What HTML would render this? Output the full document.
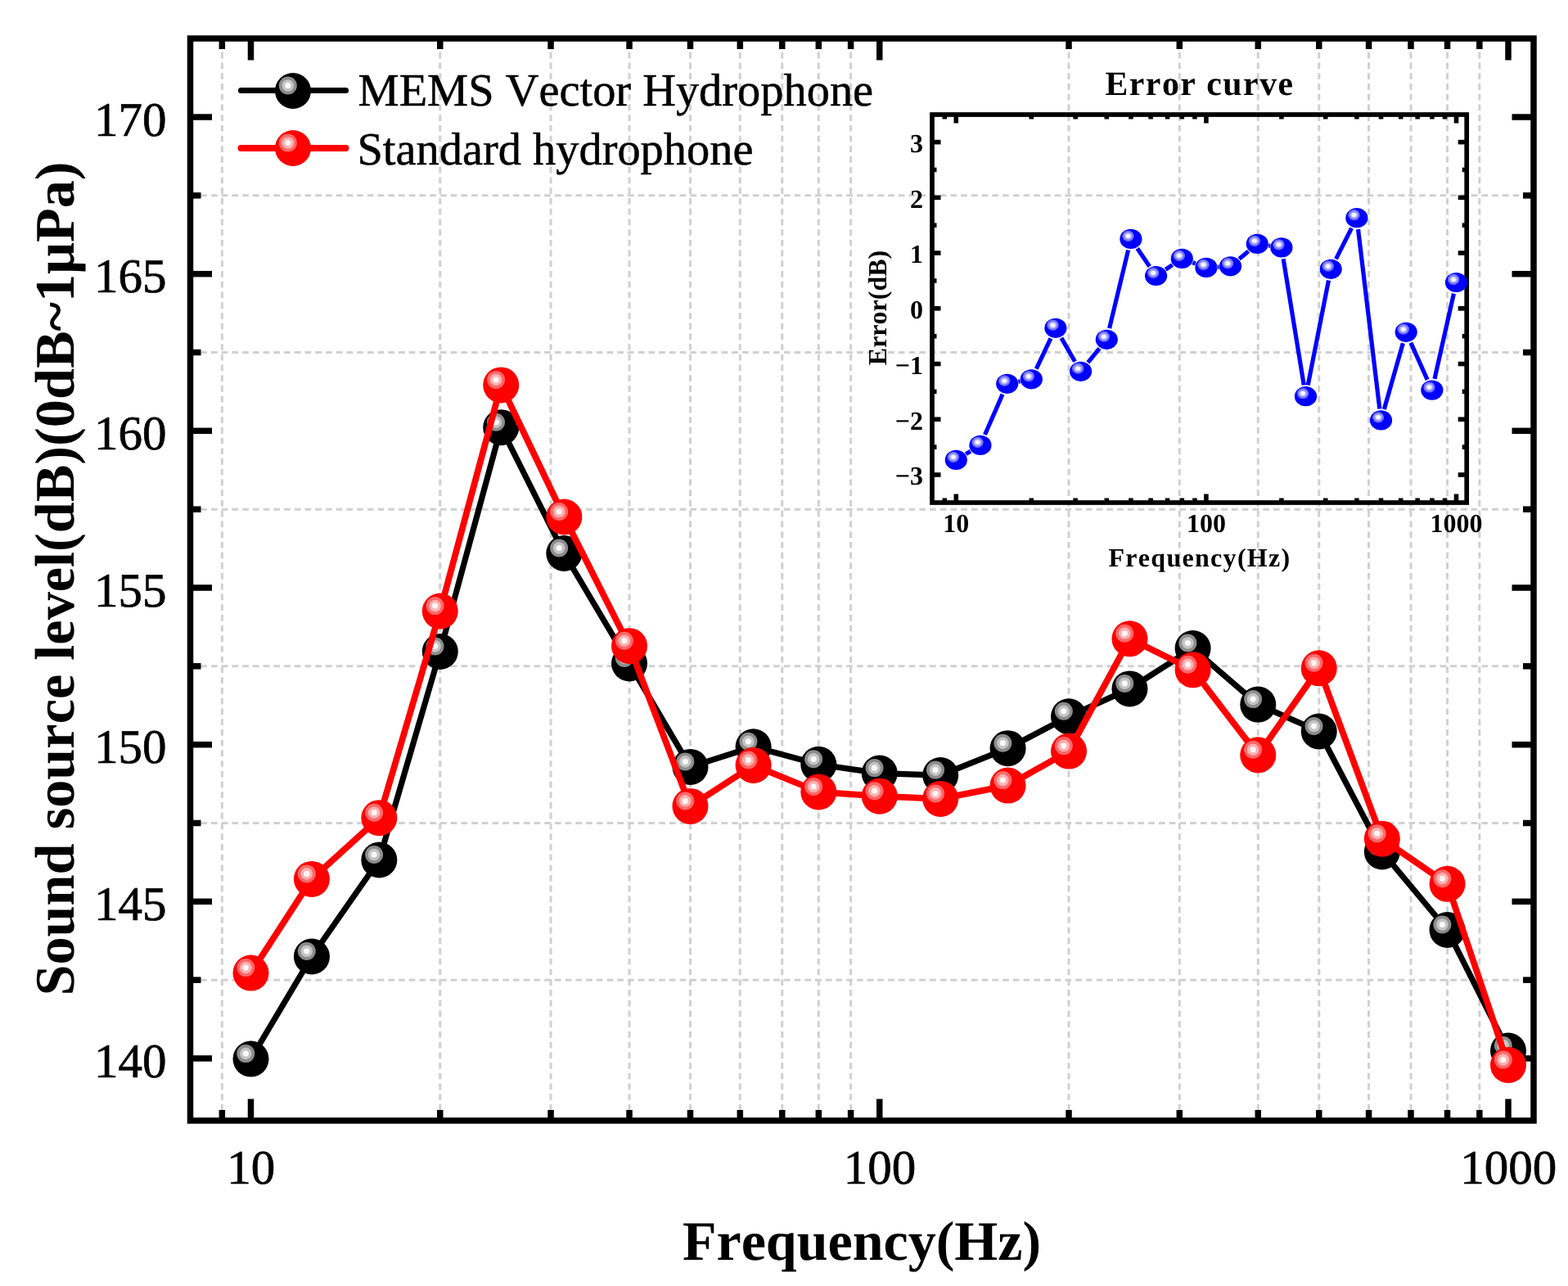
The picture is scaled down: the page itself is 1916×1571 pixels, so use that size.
<!DOCTYPE html>
<html><head><meta charset="utf-8"><title>Sound source level vs Frequency</title>
<style>
html,body{margin:0;padding:0;background:#fff;}
body{width:1916px;height:1571px;overflow:hidden;}
svg{display:block;}
text{text-rendering:geometricPrecision;}
</style></head>
<body>
<svg width="1916" height="1571" viewBox="0 0 1916 1571">
<rect width="1916" height="1571" fill="#fff"/>
<g stroke="#d0d0d0" stroke-width="3.0" stroke-dasharray="7.7 5.025" fill="none">
<line x1="271.35" y1="51.1" x2="271.35" y2="1365.25"/>
<line x1="537.77" y1="51.1" x2="537.77" y2="1365.25"/>
<line x1="673.05" y1="51.1" x2="673.05" y2="1365.25"/>
<line x1="769.03" y1="51.1" x2="769.03" y2="1365.25"/>
<line x1="843.48" y1="51.1" x2="843.48" y2="1365.25"/>
<line x1="904.31" y1="51.1" x2="904.31" y2="1365.25"/>
<line x1="955.75" y1="51.1" x2="955.75" y2="1365.25"/>
<line x1="1000.3" y1="51.1" x2="1000.3" y2="1365.25"/>
<line x1="1039.6" y1="51.1" x2="1039.6" y2="1365.25"/>
<line x1="1306.02" y1="51.1" x2="1306.02" y2="1365.25"/>
<line x1="1441.3" y1="51.1" x2="1441.3" y2="1365.25"/>
<line x1="1537.28" y1="51.1" x2="1537.28" y2="1365.25"/>
<line x1="1611.73" y1="51.1" x2="1611.73" y2="1365.25"/>
<line x1="1672.56" y1="51.1" x2="1672.56" y2="1365.25"/>
<line x1="1724" y1="51.1" x2="1724" y2="1365.25"/>
<line x1="1768.55" y1="51.1" x2="1768.55" y2="1365.25"/>
<line x1="1807.85" y1="51.1" x2="1807.85" y2="1365.25"/>
<line x1="232.55" y1="1197.17" x2="1870.25" y2="1197.17"/>
<line x1="232.55" y1="1005.5" x2="1870.25" y2="1005.5"/>
<line x1="232.55" y1="813.84" x2="1870.25" y2="813.84"/>
<line x1="232.55" y1="622.17" x2="1870.25" y2="622.17"/>
<line x1="232.55" y1="430.51" x2="1870.25" y2="430.51"/>
<line x1="232.55" y1="238.84" x2="1870.25" y2="238.84"/>
</g>
<g stroke="#000" stroke-width="7.5" fill="none">
<line x1="306.5" y1="1369" x2="306.5" y2="1342.5"/>
<line x1="306.5" y1="47" x2="306.5" y2="73.5"/>
<line x1="1074.75" y1="1369" x2="1074.75" y2="1342.5"/>
<line x1="1074.75" y1="47" x2="1074.75" y2="73.5"/>
<line x1="1843" y1="1369" x2="1843" y2="1342.5"/>
<line x1="1843" y1="47" x2="1843" y2="73.5"/>
<line x1="271.35" y1="1369" x2="271.35" y2="1356"/>
<line x1="271.35" y1="47" x2="271.35" y2="60"/>
<line x1="537.77" y1="1369" x2="537.77" y2="1356"/>
<line x1="537.77" y1="47" x2="537.77" y2="60"/>
<line x1="673.05" y1="1369" x2="673.05" y2="1356"/>
<line x1="673.05" y1="47" x2="673.05" y2="60"/>
<line x1="769.03" y1="1369" x2="769.03" y2="1356"/>
<line x1="769.03" y1="47" x2="769.03" y2="60"/>
<line x1="843.48" y1="1369" x2="843.48" y2="1356"/>
<line x1="843.48" y1="47" x2="843.48" y2="60"/>
<line x1="904.31" y1="1369" x2="904.31" y2="1356"/>
<line x1="904.31" y1="47" x2="904.31" y2="60"/>
<line x1="955.75" y1="1369" x2="955.75" y2="1356"/>
<line x1="955.75" y1="47" x2="955.75" y2="60"/>
<line x1="1000.3" y1="1369" x2="1000.3" y2="1356"/>
<line x1="1000.3" y1="47" x2="1000.3" y2="60"/>
<line x1="1039.6" y1="1369" x2="1039.6" y2="1356"/>
<line x1="1039.6" y1="47" x2="1039.6" y2="60"/>
<line x1="1306.02" y1="1369" x2="1306.02" y2="1356"/>
<line x1="1306.02" y1="47" x2="1306.02" y2="60"/>
<line x1="1441.3" y1="1369" x2="1441.3" y2="1356"/>
<line x1="1441.3" y1="47" x2="1441.3" y2="60"/>
<line x1="1537.28" y1="1369" x2="1537.28" y2="1356"/>
<line x1="1537.28" y1="47" x2="1537.28" y2="60"/>
<line x1="1611.73" y1="1369" x2="1611.73" y2="1356"/>
<line x1="1611.73" y1="47" x2="1611.73" y2="60"/>
<line x1="1672.56" y1="1369" x2="1672.56" y2="1356"/>
<line x1="1672.56" y1="47" x2="1672.56" y2="60"/>
<line x1="1724" y1="1369" x2="1724" y2="1356"/>
<line x1="1724" y1="47" x2="1724" y2="60"/>
<line x1="1768.55" y1="1369" x2="1768.55" y2="1356"/>
<line x1="1768.55" y1="47" x2="1768.55" y2="60"/>
<line x1="1807.85" y1="1369" x2="1807.85" y2="1356"/>
<line x1="1807.85" y1="47" x2="1807.85" y2="60"/>
<line x1="232.5" y1="1293" x2="259" y2="1293"/>
<line x1="1874" y1="1293" x2="1847.5" y2="1293"/>
<line x1="232.5" y1="1101.34" x2="259" y2="1101.34"/>
<line x1="1874" y1="1101.34" x2="1847.5" y2="1101.34"/>
<line x1="232.5" y1="909.67" x2="259" y2="909.67"/>
<line x1="1874" y1="909.67" x2="1847.5" y2="909.67"/>
<line x1="232.5" y1="718" x2="259" y2="718"/>
<line x1="1874" y1="718" x2="1847.5" y2="718"/>
<line x1="232.5" y1="526.34" x2="259" y2="526.34"/>
<line x1="1874" y1="526.34" x2="1847.5" y2="526.34"/>
<line x1="232.5" y1="334.68" x2="259" y2="334.68"/>
<line x1="1874" y1="334.68" x2="1847.5" y2="334.68"/>
<line x1="232.5" y1="143.01" x2="259" y2="143.01"/>
<line x1="1874" y1="143.01" x2="1847.5" y2="143.01"/>
<line x1="232.5" y1="1197.17" x2="245.5" y2="1197.17"/>
<line x1="1874" y1="1197.17" x2="1861" y2="1197.17"/>
<line x1="232.5" y1="1005.5" x2="245.5" y2="1005.5"/>
<line x1="1874" y1="1005.5" x2="1861" y2="1005.5"/>
<line x1="232.5" y1="813.84" x2="245.5" y2="813.84"/>
<line x1="1874" y1="813.84" x2="1861" y2="813.84"/>
<line x1="232.5" y1="622.17" x2="245.5" y2="622.17"/>
<line x1="1874" y1="622.17" x2="1861" y2="622.17"/>
<line x1="232.5" y1="430.51" x2="245.5" y2="430.51"/>
<line x1="1874" y1="430.51" x2="1861" y2="430.51"/>
<line x1="232.5" y1="238.84" x2="245.5" y2="238.84"/>
<line x1="1874" y1="238.84" x2="1861" y2="238.84"/>
</g>
<rect x="232.5" y="47.0" width="1641.5" height="1322.0" fill="none" stroke="#000" stroke-width="7.5"/>
<g font-family='"Liberation Serif", "Times New Roman", serif' font-size="59" fill="#000" stroke="#000" stroke-width="0.7" style="font-kerning:none">
<text x="203.5" y="1315.5" text-anchor="end">140</text>
<text x="203.5" y="1123.84" text-anchor="end">145</text>
<text x="203.5" y="932.17" text-anchor="end">150</text>
<text x="203.5" y="740.5" text-anchor="end">155</text>
<text x="203.5" y="548.84" text-anchor="end">160</text>
<text x="203.5" y="357.18" text-anchor="end">165</text>
<text x="203.5" y="165.51" text-anchor="end">170</text>
<text x="306.8" y="1446" text-anchor="middle">10</text>
<text x="1075.05" y="1446" text-anchor="middle">100</text>
<text x="1843.3" y="1446" text-anchor="middle">1000</text>
</g>
<text x="1053" y="1539" text-anchor="middle" font-family='"Liberation Serif", "Times New Roman", serif' font-weight="bold" font-size="68" style="font-kerning:none">Frequency(Hz)</text>
<text transform="translate(89.5,707) rotate(-90)" x="0" y="0" text-anchor="middle" font-family='"Liberation Serif", "Times New Roman", serif' font-weight="bold" font-size="68.3" style="font-kerning:none">Sound source level(dB)(0dB~1μPa)</text>
<polyline points="306.5,1293.6 380.95,1168.5 463.32,1050.5 537.77,796 612.22,522.2 689.33,676 769.03,810.4 843.48,936.9 920.59,912.3 1000.3,933.8 1074.75,944.6 1149.2,947.1 1231.57,914.2 1306.02,875.3 1380.47,841.4 1457.58,792 1537.28,860.6 1611.73,893.5 1688.84,1040.5 1768.55,1136 1843,1283.6" fill="none" stroke="#000" stroke-width="7.2" stroke-linejoin="round"/>
<circle cx="306.5" cy="1293.6" r="22" fill="#000"/><circle cx="300.3" cy="1287.1" r="11" fill="#8c8c8c"/><circle cx="300.3" cy="1287.1" r="7.3" fill="#c4c4c4"/><circle cx="300.3" cy="1287.1" r="3.6" fill="#fafafa"/>
<circle cx="380.95" cy="1168.5" r="22" fill="#000"/><circle cx="374.75" cy="1162" r="11" fill="#8c8c8c"/><circle cx="374.75" cy="1162" r="7.3" fill="#c4c4c4"/><circle cx="374.75" cy="1162" r="3.6" fill="#fafafa"/>
<circle cx="463.32" cy="1050.5" r="22" fill="#000"/><circle cx="457.12" cy="1044" r="11" fill="#8c8c8c"/><circle cx="457.12" cy="1044" r="7.3" fill="#c4c4c4"/><circle cx="457.12" cy="1044" r="3.6" fill="#fafafa"/>
<circle cx="537.77" cy="796" r="22" fill="#000"/><circle cx="531.57" cy="789.5" r="11" fill="#8c8c8c"/><circle cx="531.57" cy="789.5" r="7.3" fill="#c4c4c4"/><circle cx="531.57" cy="789.5" r="3.6" fill="#fafafa"/>
<circle cx="612.22" cy="522.2" r="22" fill="#000"/><circle cx="606.02" cy="515.7" r="11" fill="#8c8c8c"/><circle cx="606.02" cy="515.7" r="7.3" fill="#c4c4c4"/><circle cx="606.02" cy="515.7" r="3.6" fill="#fafafa"/>
<circle cx="689.33" cy="676" r="22" fill="#000"/><circle cx="683.13" cy="669.5" r="11" fill="#8c8c8c"/><circle cx="683.13" cy="669.5" r="7.3" fill="#c4c4c4"/><circle cx="683.13" cy="669.5" r="3.6" fill="#fafafa"/>
<circle cx="769.03" cy="810.4" r="22" fill="#000"/><circle cx="762.83" cy="803.9" r="11" fill="#8c8c8c"/><circle cx="762.83" cy="803.9" r="7.3" fill="#c4c4c4"/><circle cx="762.83" cy="803.9" r="3.6" fill="#fafafa"/>
<circle cx="843.48" cy="936.9" r="22" fill="#000"/><circle cx="837.28" cy="930.4" r="11" fill="#8c8c8c"/><circle cx="837.28" cy="930.4" r="7.3" fill="#c4c4c4"/><circle cx="837.28" cy="930.4" r="3.6" fill="#fafafa"/>
<circle cx="920.59" cy="912.3" r="22" fill="#000"/><circle cx="914.39" cy="905.8" r="11" fill="#8c8c8c"/><circle cx="914.39" cy="905.8" r="7.3" fill="#c4c4c4"/><circle cx="914.39" cy="905.8" r="3.6" fill="#fafafa"/>
<circle cx="1000.3" cy="933.8" r="22" fill="#000"/><circle cx="994.1" cy="927.3" r="11" fill="#8c8c8c"/><circle cx="994.1" cy="927.3" r="7.3" fill="#c4c4c4"/><circle cx="994.1" cy="927.3" r="3.6" fill="#fafafa"/>
<circle cx="1074.75" cy="944.6" r="22" fill="#000"/><circle cx="1068.55" cy="938.1" r="11" fill="#8c8c8c"/><circle cx="1068.55" cy="938.1" r="7.3" fill="#c4c4c4"/><circle cx="1068.55" cy="938.1" r="3.6" fill="#fafafa"/>
<circle cx="1149.2" cy="947.1" r="22" fill="#000"/><circle cx="1143" cy="940.6" r="11" fill="#8c8c8c"/><circle cx="1143" cy="940.6" r="7.3" fill="#c4c4c4"/><circle cx="1143" cy="940.6" r="3.6" fill="#fafafa"/>
<circle cx="1231.57" cy="914.2" r="22" fill="#000"/><circle cx="1225.37" cy="907.7" r="11" fill="#8c8c8c"/><circle cx="1225.37" cy="907.7" r="7.3" fill="#c4c4c4"/><circle cx="1225.37" cy="907.7" r="3.6" fill="#fafafa"/>
<circle cx="1306.02" cy="875.3" r="22" fill="#000"/><circle cx="1299.82" cy="868.8" r="11" fill="#8c8c8c"/><circle cx="1299.82" cy="868.8" r="7.3" fill="#c4c4c4"/><circle cx="1299.82" cy="868.8" r="3.6" fill="#fafafa"/>
<circle cx="1380.47" cy="841.4" r="22" fill="#000"/><circle cx="1374.27" cy="834.9" r="11" fill="#8c8c8c"/><circle cx="1374.27" cy="834.9" r="7.3" fill="#c4c4c4"/><circle cx="1374.27" cy="834.9" r="3.6" fill="#fafafa"/>
<circle cx="1457.58" cy="792" r="22" fill="#000"/><circle cx="1451.38" cy="785.5" r="11" fill="#8c8c8c"/><circle cx="1451.38" cy="785.5" r="7.3" fill="#c4c4c4"/><circle cx="1451.38" cy="785.5" r="3.6" fill="#fafafa"/>
<circle cx="1537.28" cy="860.6" r="22" fill="#000"/><circle cx="1531.08" cy="854.1" r="11" fill="#8c8c8c"/><circle cx="1531.08" cy="854.1" r="7.3" fill="#c4c4c4"/><circle cx="1531.08" cy="854.1" r="3.6" fill="#fafafa"/>
<circle cx="1611.73" cy="893.5" r="22" fill="#000"/><circle cx="1605.53" cy="887" r="11" fill="#8c8c8c"/><circle cx="1605.53" cy="887" r="7.3" fill="#c4c4c4"/><circle cx="1605.53" cy="887" r="3.6" fill="#fafafa"/>
<circle cx="1688.84" cy="1040.5" r="22" fill="#000"/><circle cx="1682.64" cy="1034" r="11" fill="#8c8c8c"/><circle cx="1682.64" cy="1034" r="7.3" fill="#c4c4c4"/><circle cx="1682.64" cy="1034" r="3.6" fill="#fafafa"/>
<circle cx="1768.55" cy="1136" r="22" fill="#000"/><circle cx="1762.35" cy="1129.5" r="11" fill="#8c8c8c"/><circle cx="1762.35" cy="1129.5" r="7.3" fill="#c4c4c4"/><circle cx="1762.35" cy="1129.5" r="3.6" fill="#fafafa"/>
<circle cx="1843" cy="1283.6" r="22" fill="#000"/><circle cx="1836.8" cy="1277.1" r="11" fill="#8c8c8c"/><circle cx="1836.8" cy="1277.1" r="7.3" fill="#c4c4c4"/><circle cx="1836.8" cy="1277.1" r="3.6" fill="#fafafa"/>
<polyline points="306.5,1188.6 380.95,1073.9 463.32,999.2 537.77,746.6 612.22,470.4 689.33,631.5 769.03,789.2 843.48,984.9 920.59,934.9 1000.3,967.5 1074.75,972.7 1149.2,975.9 1231.57,959.6 1306.02,917.6 1380.47,780.3 1457.58,818.3 1537.28,922.3 1611.73,816.3 1688.84,1024.7 1768.55,1079.8 1843,1301.1" fill="none" stroke="#ff0000" stroke-width="7.8" stroke-linejoin="round"/>
<circle cx="306.5" cy="1188.6" r="22" fill="#ff0000"/><circle cx="300.3" cy="1182.1" r="11" fill="#ff6868"/><circle cx="300.3" cy="1182.1" r="7.3" fill="#ffb0b0"/><circle cx="300.3" cy="1182.1" r="3.6" fill="#fff6f6"/>
<circle cx="380.95" cy="1073.9" r="22" fill="#ff0000"/><circle cx="374.75" cy="1067.4" r="11" fill="#ff6868"/><circle cx="374.75" cy="1067.4" r="7.3" fill="#ffb0b0"/><circle cx="374.75" cy="1067.4" r="3.6" fill="#fff6f6"/>
<circle cx="463.32" cy="999.2" r="22" fill="#ff0000"/><circle cx="457.12" cy="992.7" r="11" fill="#ff6868"/><circle cx="457.12" cy="992.7" r="7.3" fill="#ffb0b0"/><circle cx="457.12" cy="992.7" r="3.6" fill="#fff6f6"/>
<circle cx="537.77" cy="746.6" r="22" fill="#ff0000"/><circle cx="531.57" cy="740.1" r="11" fill="#ff6868"/><circle cx="531.57" cy="740.1" r="7.3" fill="#ffb0b0"/><circle cx="531.57" cy="740.1" r="3.6" fill="#fff6f6"/>
<circle cx="612.22" cy="470.4" r="22" fill="#ff0000"/><circle cx="606.02" cy="463.9" r="11" fill="#ff6868"/><circle cx="606.02" cy="463.9" r="7.3" fill="#ffb0b0"/><circle cx="606.02" cy="463.9" r="3.6" fill="#fff6f6"/>
<circle cx="689.33" cy="631.5" r="22" fill="#ff0000"/><circle cx="683.13" cy="625" r="11" fill="#ff6868"/><circle cx="683.13" cy="625" r="7.3" fill="#ffb0b0"/><circle cx="683.13" cy="625" r="3.6" fill="#fff6f6"/>
<circle cx="769.03" cy="789.2" r="22" fill="#ff0000"/><circle cx="762.83" cy="782.7" r="11" fill="#ff6868"/><circle cx="762.83" cy="782.7" r="7.3" fill="#ffb0b0"/><circle cx="762.83" cy="782.7" r="3.6" fill="#fff6f6"/>
<circle cx="843.48" cy="984.9" r="22" fill="#ff0000"/><circle cx="837.28" cy="978.4" r="11" fill="#ff6868"/><circle cx="837.28" cy="978.4" r="7.3" fill="#ffb0b0"/><circle cx="837.28" cy="978.4" r="3.6" fill="#fff6f6"/>
<circle cx="920.59" cy="934.9" r="22" fill="#ff0000"/><circle cx="914.39" cy="928.4" r="11" fill="#ff6868"/><circle cx="914.39" cy="928.4" r="7.3" fill="#ffb0b0"/><circle cx="914.39" cy="928.4" r="3.6" fill="#fff6f6"/>
<circle cx="1000.3" cy="967.5" r="22" fill="#ff0000"/><circle cx="994.1" cy="961" r="11" fill="#ff6868"/><circle cx="994.1" cy="961" r="7.3" fill="#ffb0b0"/><circle cx="994.1" cy="961" r="3.6" fill="#fff6f6"/>
<circle cx="1074.75" cy="972.7" r="22" fill="#ff0000"/><circle cx="1068.55" cy="966.2" r="11" fill="#ff6868"/><circle cx="1068.55" cy="966.2" r="7.3" fill="#ffb0b0"/><circle cx="1068.55" cy="966.2" r="3.6" fill="#fff6f6"/>
<circle cx="1149.2" cy="975.9" r="22" fill="#ff0000"/><circle cx="1143" cy="969.4" r="11" fill="#ff6868"/><circle cx="1143" cy="969.4" r="7.3" fill="#ffb0b0"/><circle cx="1143" cy="969.4" r="3.6" fill="#fff6f6"/>
<circle cx="1231.57" cy="959.6" r="22" fill="#ff0000"/><circle cx="1225.37" cy="953.1" r="11" fill="#ff6868"/><circle cx="1225.37" cy="953.1" r="7.3" fill="#ffb0b0"/><circle cx="1225.37" cy="953.1" r="3.6" fill="#fff6f6"/>
<circle cx="1306.02" cy="917.6" r="22" fill="#ff0000"/><circle cx="1299.82" cy="911.1" r="11" fill="#ff6868"/><circle cx="1299.82" cy="911.1" r="7.3" fill="#ffb0b0"/><circle cx="1299.82" cy="911.1" r="3.6" fill="#fff6f6"/>
<circle cx="1380.47" cy="780.3" r="22" fill="#ff0000"/><circle cx="1374.27" cy="773.8" r="11" fill="#ff6868"/><circle cx="1374.27" cy="773.8" r="7.3" fill="#ffb0b0"/><circle cx="1374.27" cy="773.8" r="3.6" fill="#fff6f6"/>
<circle cx="1457.58" cy="818.3" r="22" fill="#ff0000"/><circle cx="1451.38" cy="811.8" r="11" fill="#ff6868"/><circle cx="1451.38" cy="811.8" r="7.3" fill="#ffb0b0"/><circle cx="1451.38" cy="811.8" r="3.6" fill="#fff6f6"/>
<circle cx="1537.28" cy="922.3" r="22" fill="#ff0000"/><circle cx="1531.08" cy="915.8" r="11" fill="#ff6868"/><circle cx="1531.08" cy="915.8" r="7.3" fill="#ffb0b0"/><circle cx="1531.08" cy="915.8" r="3.6" fill="#fff6f6"/>
<circle cx="1611.73" cy="816.3" r="22" fill="#ff0000"/><circle cx="1605.53" cy="809.8" r="11" fill="#ff6868"/><circle cx="1605.53" cy="809.8" r="7.3" fill="#ffb0b0"/><circle cx="1605.53" cy="809.8" r="3.6" fill="#fff6f6"/>
<circle cx="1688.84" cy="1024.7" r="22" fill="#ff0000"/><circle cx="1682.64" cy="1018.2" r="11" fill="#ff6868"/><circle cx="1682.64" cy="1018.2" r="7.3" fill="#ffb0b0"/><circle cx="1682.64" cy="1018.2" r="3.6" fill="#fff6f6"/>
<circle cx="1768.55" cy="1079.8" r="22" fill="#ff0000"/><circle cx="1762.35" cy="1073.3" r="11" fill="#ff6868"/><circle cx="1762.35" cy="1073.3" r="7.3" fill="#ffb0b0"/><circle cx="1762.35" cy="1073.3" r="3.6" fill="#fff6f6"/>
<circle cx="1843" cy="1301.1" r="22" fill="#ff0000"/><circle cx="1836.8" cy="1294.6" r="11" fill="#ff6868"/><circle cx="1836.8" cy="1294.6" r="7.3" fill="#ffb0b0"/><circle cx="1836.8" cy="1294.6" r="3.6" fill="#fff6f6"/>
<line x1="294.5" y1="110.5" x2="422.5" y2="110.5" stroke="#000" stroke-width="7.2" stroke-linecap="round"/>
<circle cx="358" cy="111" r="22" fill="#000"/><circle cx="351.8" cy="104.5" r="11" fill="#8c8c8c"/><circle cx="351.8" cy="104.5" r="7.3" fill="#c4c4c4"/><circle cx="351.8" cy="104.5" r="3.6" fill="#fafafa"/>
<line x1="294.5" y1="181" x2="422.5" y2="181" stroke="#ff0000" stroke-width="8" stroke-linecap="round"/>
<circle cx="358" cy="181" r="22" fill="#ff0000"/><circle cx="351.8" cy="174.5" r="11" fill="#ff6868"/><circle cx="351.8" cy="174.5" r="7.3" fill="#ffb0b0"/><circle cx="351.8" cy="174.5" r="3.6" fill="#fff6f6"/>
<g font-family='"Liberation Serif", "Times New Roman", serif' font-size="56.4" fill="#000" stroke="#000" stroke-width="0.5" style="font-kerning:none">
<text x="437.5" y="129.2">MEMS Vector Hydrophone</text>
<text x="436.5" y="200.7">Standard hydrophone</text>
</g>
<g stroke="#000" stroke-width="5.6" fill="none">
<line x1="1168.3" y1="614" x2="1168.3" y2="603.5"/>
<line x1="1168.3" y1="140" x2="1168.3" y2="150.5"/>
<line x1="1473.9" y1="614" x2="1473.9" y2="603.5"/>
<line x1="1473.9" y1="140" x2="1473.9" y2="150.5"/>
<line x1="1779.5" y1="614" x2="1779.5" y2="603.5"/>
<line x1="1779.5" y1="140" x2="1779.5" y2="150.5"/>
<line x1="1154.32" y1="614" x2="1154.32" y2="608.5"/>
<line x1="1154.32" y1="140" x2="1154.32" y2="145.5"/>
<line x1="1260.29" y1="614" x2="1260.29" y2="608.5"/>
<line x1="1260.29" y1="140" x2="1260.29" y2="145.5"/>
<line x1="1314.11" y1="614" x2="1314.11" y2="608.5"/>
<line x1="1314.11" y1="140" x2="1314.11" y2="145.5"/>
<line x1="1352.29" y1="614" x2="1352.29" y2="608.5"/>
<line x1="1352.29" y1="140" x2="1352.29" y2="145.5"/>
<line x1="1381.91" y1="614" x2="1381.91" y2="608.5"/>
<line x1="1381.91" y1="140" x2="1381.91" y2="145.5"/>
<line x1="1406.1" y1="614" x2="1406.1" y2="608.5"/>
<line x1="1406.1" y1="140" x2="1406.1" y2="145.5"/>
<line x1="1426.56" y1="614" x2="1426.56" y2="608.5"/>
<line x1="1426.56" y1="140" x2="1426.56" y2="145.5"/>
<line x1="1444.28" y1="614" x2="1444.28" y2="608.5"/>
<line x1="1444.28" y1="140" x2="1444.28" y2="145.5"/>
<line x1="1459.92" y1="614" x2="1459.92" y2="608.5"/>
<line x1="1459.92" y1="140" x2="1459.92" y2="145.5"/>
<line x1="1565.89" y1="614" x2="1565.89" y2="608.5"/>
<line x1="1565.89" y1="140" x2="1565.89" y2="145.5"/>
<line x1="1619.71" y1="614" x2="1619.71" y2="608.5"/>
<line x1="1619.71" y1="140" x2="1619.71" y2="145.5"/>
<line x1="1657.89" y1="614" x2="1657.89" y2="608.5"/>
<line x1="1657.89" y1="140" x2="1657.89" y2="145.5"/>
<line x1="1687.51" y1="614" x2="1687.51" y2="608.5"/>
<line x1="1687.51" y1="140" x2="1687.51" y2="145.5"/>
<line x1="1711.7" y1="614" x2="1711.7" y2="608.5"/>
<line x1="1711.7" y1="140" x2="1711.7" y2="145.5"/>
<line x1="1732.16" y1="614" x2="1732.16" y2="608.5"/>
<line x1="1732.16" y1="140" x2="1732.16" y2="145.5"/>
<line x1="1749.88" y1="614" x2="1749.88" y2="608.5"/>
<line x1="1749.88" y1="140" x2="1749.88" y2="145.5"/>
<line x1="1765.52" y1="614" x2="1765.52" y2="608.5"/>
<line x1="1765.52" y1="140" x2="1765.52" y2="145.5"/>
<line x1="1139" y1="579.99" x2="1149.5" y2="579.99"/>
<line x1="1792.2" y1="579.99" x2="1781.7" y2="579.99"/>
<line x1="1139" y1="512.26" x2="1149.5" y2="512.26"/>
<line x1="1792.2" y1="512.26" x2="1781.7" y2="512.26"/>
<line x1="1139" y1="444.53" x2="1149.5" y2="444.53"/>
<line x1="1792.2" y1="444.53" x2="1781.7" y2="444.53"/>
<line x1="1139" y1="376.8" x2="1149.5" y2="376.8"/>
<line x1="1792.2" y1="376.8" x2="1781.7" y2="376.8"/>
<line x1="1139" y1="309.07" x2="1149.5" y2="309.07"/>
<line x1="1792.2" y1="309.07" x2="1781.7" y2="309.07"/>
<line x1="1139" y1="241.34" x2="1149.5" y2="241.34"/>
<line x1="1792.2" y1="241.34" x2="1781.7" y2="241.34"/>
<line x1="1139" y1="173.61" x2="1149.5" y2="173.61"/>
<line x1="1792.2" y1="173.61" x2="1781.7" y2="173.61"/>
<line x1="1139" y1="546.12" x2="1144.5" y2="546.12"/>
<line x1="1792.2" y1="546.12" x2="1786.7" y2="546.12"/>
<line x1="1139" y1="478.39" x2="1144.5" y2="478.39"/>
<line x1="1792.2" y1="478.39" x2="1786.7" y2="478.39"/>
<line x1="1139" y1="410.67" x2="1144.5" y2="410.67"/>
<line x1="1792.2" y1="410.67" x2="1786.7" y2="410.67"/>
<line x1="1139" y1="342.94" x2="1144.5" y2="342.94"/>
<line x1="1792.2" y1="342.94" x2="1786.7" y2="342.94"/>
<line x1="1139" y1="275.21" x2="1144.5" y2="275.21"/>
<line x1="1792.2" y1="275.21" x2="1786.7" y2="275.21"/>
<line x1="1139" y1="207.47" x2="1144.5" y2="207.47"/>
<line x1="1792.2" y1="207.47" x2="1786.7" y2="207.47"/>
</g>
<rect x="1139.0" y="140.0" width="653.2" height="474" fill="none" stroke="#000" stroke-width="5.7"/>
<g font-family='"Liberation Serif", "Times New Roman", serif' font-weight="bold" font-size="32" fill="#000" style="font-kerning:none">
<text x="1128" y="592.29" text-anchor="end">−3</text>
<text x="1128" y="524.56" text-anchor="end">−2</text>
<text x="1128" y="456.83" text-anchor="end">−1</text>
<text x="1128" y="389.1" text-anchor="end">0</text>
<text x="1128" y="321.37" text-anchor="end">1</text>
<text x="1128" y="253.64" text-anchor="end">2</text>
<text x="1128" y="185.91" text-anchor="end">3</text>
<text x="1168.3" y="649.6" text-anchor="middle">10</text>
<text x="1473.9" y="649.6" text-anchor="middle">100</text>
<text x="1779.5" y="649.6" text-anchor="middle">1000</text>
<text x="1466" y="692" text-anchor="middle" letter-spacing="1.3">Frequency(Hz)</text>
<text transform="translate(1083,376) rotate(-90)" text-anchor="middle">Error(dB)</text>
<text x="1466" y="116" text-anchor="middle" font-size="41.8" letter-spacing="1.5">Error curve</text>
</g>
<path d="M1180.26 554.63L1185.95 551.17M1203.51 531.07L1225.08 481.63M1244.44 466.24L1246.53 465.86M1266.29 450.65L1283.92 413.45M1296.92 412.92L1313.57 441.68M1329.42 442.94L1343.46 425.66M1355.57 401.19L1378.63 305.51M1389.78 303.48L1404.71 325.42M1424.23 329.24L1432.63 323.66M1457.41 320.77L1460.78 322.03M1487.88 326.14L1489.54 326.06M1514.26 316.32L1525.54 306.88M1550.12 300L1552.05 300.3M1568.15 316.22L1593.26 470.38M1598.22 470.47L1623.47 342.53M1632.51 316.31L1651.56 278.69M1659.55 280.1L1685.84 499.5M1691.34 499.94L1714.34 419.26M1723.9 418.58L1744.16 463.82M1752.96 462.94L1776.43 358.66" stroke="#0000ff" stroke-width="5.2" fill="none"/>
<ellipse cx="1168.3" cy="561.9" rx="13.6" ry="12.1" fill="#0000ff"/><ellipse cx="1164.9" cy="558.3" rx="7.1" ry="6.6" fill="#7474ff"/><ellipse cx="1164.9" cy="558.3" rx="4.8" ry="4.2" fill="#b4b4ff"/><ellipse cx="1164.9" cy="558.3" rx="2.8" ry="2.5" fill="#f8f8ff"/>
<ellipse cx="1197.92" cy="543.9" rx="13.6" ry="12.1" fill="#0000ff"/><ellipse cx="1194.52" cy="540.3" rx="7.1" ry="6.6" fill="#7474ff"/><ellipse cx="1194.52" cy="540.3" rx="4.8" ry="4.2" fill="#b4b4ff"/><ellipse cx="1194.52" cy="540.3" rx="2.8" ry="2.5" fill="#f8f8ff"/>
<ellipse cx="1230.68" cy="468.8" rx="13.6" ry="12.1" fill="#0000ff"/><ellipse cx="1227.28" cy="465.2" rx="7.1" ry="6.6" fill="#7474ff"/><ellipse cx="1227.28" cy="465.2" rx="4.8" ry="4.2" fill="#b4b4ff"/><ellipse cx="1227.28" cy="465.2" rx="2.8" ry="2.5" fill="#f8f8ff"/>
<ellipse cx="1260.29" cy="463.3" rx="13.6" ry="12.1" fill="#0000ff"/><ellipse cx="1256.89" cy="459.7" rx="7.1" ry="6.6" fill="#7474ff"/><ellipse cx="1256.89" cy="459.7" rx="4.8" ry="4.2" fill="#b4b4ff"/><ellipse cx="1256.89" cy="459.7" rx="2.8" ry="2.5" fill="#f8f8ff"/>
<ellipse cx="1289.91" cy="400.8" rx="13.6" ry="12.1" fill="#0000ff"/><ellipse cx="1286.51" cy="397.2" rx="7.1" ry="6.6" fill="#7474ff"/><ellipse cx="1286.51" cy="397.2" rx="4.8" ry="4.2" fill="#b4b4ff"/><ellipse cx="1286.51" cy="397.2" rx="2.8" ry="2.5" fill="#f8f8ff"/>
<ellipse cx="1320.58" cy="453.8" rx="13.6" ry="12.1" fill="#0000ff"/><ellipse cx="1317.18" cy="450.2" rx="7.1" ry="6.6" fill="#7474ff"/><ellipse cx="1317.18" cy="450.2" rx="4.8" ry="4.2" fill="#b4b4ff"/><ellipse cx="1317.18" cy="450.2" rx="2.8" ry="2.5" fill="#f8f8ff"/>
<ellipse cx="1352.29" cy="414.8" rx="13.6" ry="12.1" fill="#0000ff"/><ellipse cx="1348.89" cy="411.2" rx="7.1" ry="6.6" fill="#7474ff"/><ellipse cx="1348.89" cy="411.2" rx="4.8" ry="4.2" fill="#b4b4ff"/><ellipse cx="1348.89" cy="411.2" rx="2.8" ry="2.5" fill="#f8f8ff"/>
<ellipse cx="1381.91" cy="291.9" rx="13.6" ry="12.1" fill="#0000ff"/><ellipse cx="1378.51" cy="288.3" rx="7.1" ry="6.6" fill="#7474ff"/><ellipse cx="1378.51" cy="288.3" rx="4.8" ry="4.2" fill="#b4b4ff"/><ellipse cx="1378.51" cy="288.3" rx="2.8" ry="2.5" fill="#f8f8ff"/>
<ellipse cx="1412.58" cy="337" rx="13.6" ry="12.1" fill="#0000ff"/><ellipse cx="1409.18" cy="333.4" rx="7.1" ry="6.6" fill="#7474ff"/><ellipse cx="1409.18" cy="333.4" rx="4.8" ry="4.2" fill="#b4b4ff"/><ellipse cx="1409.18" cy="333.4" rx="2.8" ry="2.5" fill="#f8f8ff"/>
<ellipse cx="1444.28" cy="315.9" rx="13.6" ry="12.1" fill="#0000ff"/><ellipse cx="1440.88" cy="312.3" rx="7.1" ry="6.6" fill="#7474ff"/><ellipse cx="1440.88" cy="312.3" rx="4.8" ry="4.2" fill="#b4b4ff"/><ellipse cx="1440.88" cy="312.3" rx="2.8" ry="2.5" fill="#f8f8ff"/>
<ellipse cx="1473.9" cy="326.9" rx="13.6" ry="12.1" fill="#0000ff"/><ellipse cx="1470.5" cy="323.3" rx="7.1" ry="6.6" fill="#7474ff"/><ellipse cx="1470.5" cy="323.3" rx="4.8" ry="4.2" fill="#b4b4ff"/><ellipse cx="1470.5" cy="323.3" rx="2.8" ry="2.5" fill="#f8f8ff"/>
<ellipse cx="1503.52" cy="325.3" rx="13.6" ry="12.1" fill="#0000ff"/><ellipse cx="1500.12" cy="321.7" rx="7.1" ry="6.6" fill="#7474ff"/><ellipse cx="1500.12" cy="321.7" rx="4.8" ry="4.2" fill="#b4b4ff"/><ellipse cx="1500.12" cy="321.7" rx="2.8" ry="2.5" fill="#f8f8ff"/>
<ellipse cx="1536.28" cy="297.9" rx="13.6" ry="12.1" fill="#0000ff"/><ellipse cx="1532.88" cy="294.3" rx="7.1" ry="6.6" fill="#7474ff"/><ellipse cx="1532.88" cy="294.3" rx="4.8" ry="4.2" fill="#b4b4ff"/><ellipse cx="1532.88" cy="294.3" rx="2.8" ry="2.5" fill="#f8f8ff"/>
<ellipse cx="1565.89" cy="302.4" rx="13.6" ry="12.1" fill="#0000ff"/><ellipse cx="1562.49" cy="298.8" rx="7.1" ry="6.6" fill="#7474ff"/><ellipse cx="1562.49" cy="298.8" rx="4.8" ry="4.2" fill="#b4b4ff"/><ellipse cx="1562.49" cy="298.8" rx="2.8" ry="2.5" fill="#f8f8ff"/>
<ellipse cx="1595.51" cy="484.2" rx="13.6" ry="12.1" fill="#0000ff"/><ellipse cx="1592.11" cy="480.6" rx="7.1" ry="6.6" fill="#7474ff"/><ellipse cx="1592.11" cy="480.6" rx="4.8" ry="4.2" fill="#b4b4ff"/><ellipse cx="1592.11" cy="480.6" rx="2.8" ry="2.5" fill="#f8f8ff"/>
<ellipse cx="1626.18" cy="328.8" rx="13.6" ry="12.1" fill="#0000ff"/><ellipse cx="1622.78" cy="325.2" rx="7.1" ry="6.6" fill="#7474ff"/><ellipse cx="1622.78" cy="325.2" rx="4.8" ry="4.2" fill="#b4b4ff"/><ellipse cx="1622.78" cy="325.2" rx="2.8" ry="2.5" fill="#f8f8ff"/>
<ellipse cx="1657.89" cy="266.2" rx="13.6" ry="12.1" fill="#0000ff"/><ellipse cx="1654.49" cy="262.6" rx="7.1" ry="6.6" fill="#7474ff"/><ellipse cx="1654.49" cy="262.6" rx="4.8" ry="4.2" fill="#b4b4ff"/><ellipse cx="1654.49" cy="262.6" rx="2.8" ry="2.5" fill="#f8f8ff"/>
<ellipse cx="1687.51" cy="513.4" rx="13.6" ry="12.1" fill="#0000ff"/><ellipse cx="1684.11" cy="509.8" rx="7.1" ry="6.6" fill="#7474ff"/><ellipse cx="1684.11" cy="509.8" rx="4.8" ry="4.2" fill="#b4b4ff"/><ellipse cx="1684.11" cy="509.8" rx="2.8" ry="2.5" fill="#f8f8ff"/>
<ellipse cx="1718.18" cy="405.8" rx="13.6" ry="12.1" fill="#0000ff"/><ellipse cx="1714.78" cy="402.2" rx="7.1" ry="6.6" fill="#7474ff"/><ellipse cx="1714.78" cy="402.2" rx="4.8" ry="4.2" fill="#b4b4ff"/><ellipse cx="1714.78" cy="402.2" rx="2.8" ry="2.5" fill="#f8f8ff"/>
<ellipse cx="1749.88" cy="476.6" rx="13.6" ry="12.1" fill="#0000ff"/><ellipse cx="1746.48" cy="473" rx="7.1" ry="6.6" fill="#7474ff"/><ellipse cx="1746.48" cy="473" rx="4.8" ry="4.2" fill="#b4b4ff"/><ellipse cx="1746.48" cy="473" rx="2.8" ry="2.5" fill="#f8f8ff"/>
<ellipse cx="1779.5" cy="345" rx="13.6" ry="12.1" fill="#0000ff"/><ellipse cx="1776.1" cy="341.4" rx="7.1" ry="6.6" fill="#7474ff"/><ellipse cx="1776.1" cy="341.4" rx="4.8" ry="4.2" fill="#b4b4ff"/><ellipse cx="1776.1" cy="341.4" rx="2.8" ry="2.5" fill="#f8f8ff"/>
</svg>
</body></html>
